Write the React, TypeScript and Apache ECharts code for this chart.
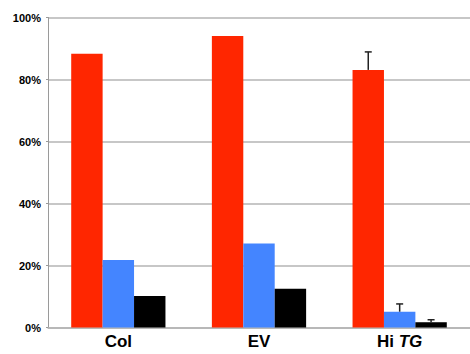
import React, { useEffect, useRef } from "react";
import * as echarts from "echarts";

const categories = ["Col", "EV", "Hi TG"];
const redValues = [88.3, 94.0, 83.1];
const blueValues = [21.8, 27.1, 5.1];
const blackValues = [10.2, 12.5, 1.7];
// upper end of error bars (only Hi TG has them)
const redErrTop = [null, null, 88.9];
const blueErrTop = [null, null, 7.6];
const blackErrTop = [null, null, 2.5];
const yTicks = [0, 20, 40, 60, 80, 100];

const CAT_GAP = 0.33;

export default function App() {
  const ref = useRef<HTMLDivElement>(null);
  useEffect(() => {
    if (!ref.current) return;
    const chart = echarts.init(ref.current, undefined, { renderer: "svg" });
    const errData: any[] = [];
    const errSets = [redErrTop, blueErrTop, blackErrTop];
    const valSets = [redValues, blueValues, blackValues];
    errSets.forEach((set, s) => {
      set.forEach((v, i) => {
        if (v != null) errData.push([i, valSets[s][i], v, s]);
      });
    });
    chart.setOption({
      animation: false,
      grid: { left: 48, right: 0, top: 17.5, bottom: 26.5, containLabel: false },
      xAxis: {
        type: "category",
        data: categories,
        axisLine: { show: true, lineStyle: { color: "#b4b4b4", width: 1.5 } },
        axisTick: { show: false },
        axisLabel: {
          margin: 5,
          formatter: (v: string) => (v === "Hi TG" ? "{b|Hi }{i|TG}" : "{b|" + v + "}"),
          rich: {
            b: { fontFamily: "Liberation Sans, Arial", fontWeight: "bold", fontSize: 17, color: "#000" },
            i: { fontFamily: "Liberation Sans, Arial", fontWeight: "bold", fontStyle: "italic", fontSize: 17, color: "#000" },
          },
        },
      },
      yAxis: {
        type: "value",
        min: yTicks[0],
        max: yTicks[yTicks.length - 1],
        interval: 20,
        axisLine: { show: true, lineStyle: { color: "#9a9a9a", width: 1 } },
        axisTick: { show: true, length: 2, lineStyle: { color: "#9a9a9a" } },
        splitLine: { show: true, lineStyle: { color: "#b4b4b4", width: 1.5 } },
        axisLabel: {
          formatter: "{value}%",
          margin: 7,
          fontFamily: "Liberation Sans, Arial",
          fontWeight: "bold",
          fontSize: 11,
          color: "#000",
        },
      },
      series: [
        { type: "bar", data: redValues, barGap: "0%", barCategoryGap: "33%", itemStyle: { color: "#FF2600" } },
        { type: "bar", data: blueValues, barGap: "0%", barCategoryGap: "33%", itemStyle: { color: "#4485FF" } },
        { type: "bar", data: blackValues, barGap: "0%", barCategoryGap: "33%", itemStyle: { color: "#000000" } },
        {
          type: "custom",
          z: 10,
          data: errData,
          renderItem: (params: any, api: any) => {
            const idx = api.value(0);
            const low = api.coord([idx, api.value(1)]);
            const high = api.coord([idx, api.value(2)]);
            const s = api.value(3);
            const band = api.size([1, 0])[0];
            const bw = (band * (1 - CAT_GAP)) / 3;
            const x = low[0] + (s - 1) * bw;
            const cap = 3.5;
            return {
              type: "group",
              children: [
                { type: "line", shape: { x1: x, y1: low[1], x2: x, y2: high[1] }, style: { stroke: "#222", lineWidth: 1.5 } },
                { type: "line", shape: { x1: x - cap, y1: high[1], x2: x + cap, y2: high[1] }, style: { stroke: "#222", lineWidth: 1.5 } },
              ],
            };
          },
        },
      ],
    });
    return () => chart.dispose();
  }, []);
  return (
    <div
      ref={ref}
      style={{ position: "fixed", left: 0, top: 0, width: 470, height: 354, background: "#fff" }}
    />
  );
}
